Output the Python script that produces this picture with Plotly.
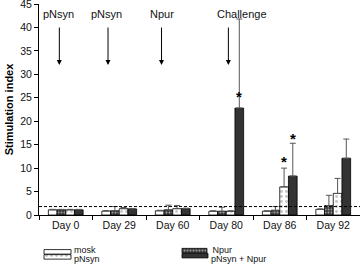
import plotly.graph_objects as go

days = ["Day 0", "Day 29", "Day 60", "Day 80", "Day 86", "Day 92"]
series_names = ["mosk", "Npur", "pNsyn", "pNsyn + Npur"]
mosk = [1.1, 0.85, 0.9, 0.8, 0.8, 1.2]
mosk_err = [0.1, 0.1, 0.1, 0.1, 0.1, 0.1]
npur = [1.1, 0.9, 1.1, 0.8, 1.0, 2.0]
npur_err = [0.1, 0.9, 1.0, 0.85, 0.8, 2.2]
pnsyn = [1.1, 1.35, 1.35, 0.8, 6.0, 4.6]
pnsyn_err = [0.1, 0.25, 0.65, 0.1, 4.0, 3.2]
combo = [1.1, 1.3, 1.35, 22.8, 8.3, 12.1]
combo_err = [0.1, 0.1, 0.1, 19.0, 7.0, 4.1]

threshold = 1.8

star_day = ["Day 80", "Day 86", "Day 86"]
star_series_idx = [3, 2, 3]
star_y = [26.0, 12.1, 16.9]

event_labels = ["pNsyn", "pNsyn", "Npur", "Challenge"]
event_arrow_x = [-0.12, 0.79, 1.79, 3.04]
event_label_x = [-0.13, 0.77, 1.79, 3.29]

FONT = "Liberation Sans, Arial, sans-serif"
W, H = 360, 265
L, R, T, B = 39, 0, 4, 0
plot_h = H - T - B
main_bottom_px = 215
dom0 = (H - main_bottom_px) / plot_h

values = [mosk, npur, pnsyn, combo]
errs = [mosk_err, npur_err, pnsyn_err, combo_err]
styles = [
    dict(color="white", pattern=None),
    dict(color="#3a3a3a", pattern=dict(shape=".", fgcolor="white", bgcolor="#3a3a3a", size=3, solidity=0.35)),
    dict(color="white", pattern=dict(shape=".", fgcolor="#888", bgcolor="white", size=5, solidity=0.25)),
    dict(color="#333333", pattern=None),
]

fig = go.Figure()
for name, v, e, st in zip(series_names, values, errs, styles):
    marker = dict(color=st["color"], line=dict(color="black", width=0.8))
    if st["pattern"]:
        marker["pattern"] = st["pattern"]
    fig.add_trace(go.Bar(
        x=days, y=v, name=name, marker=marker, showlegend=False,
        error_y=dict(type="data", array=e, arrayminus=[0] * len(e), symmetric=False,
                     color="#555", thickness=1, width=3),
        xaxis="x", yaxis="y",
    ))

# legend drawn with bars on a small helper axis
leg_x0 = [44, 182, 44, 182]
leg_len = [27, 25, 27, 26]
leg_y = [15, 7.5]
leg_text_y = [15, 6.3]
leg_rows = [0, 0, 1, 1]
leg_text_names = ["mosk", " Npur", "pNsyn", "pNsyn + Npur"]
for i, (x0, ln, r) in enumerate(zip(leg_x0, leg_len, leg_rows)):
    st = styles[i]
    marker = dict(color=st["color"], line=dict(color="black", width=0.8))
    if st["pattern"]:
        marker["pattern"] = st["pattern"]
    fig.add_trace(go.Bar(
        x=[ln], y=[leg_y[r]], base=[x0], orientation="h", width=4.5,
        marker=marker, showlegend=False, hoverinfo="skip",
        xaxis="x2", yaxis="y2",
    ))
    fig.add_annotation(x=x0 + ln + 0.5, y=leg_text_y[r], xref="x2", yref="y2",
                       text=leg_text_names[i], showarrow=False, xanchor="left",
                       yanchor="middle", font=dict(size=9, color="#111", family=FONT))

fig.add_shape(type="line", xref="x domain", yref="y", x0=0, x1=1, y0=threshold, y1=threshold,
              line=dict(color="black", width=1, dash="3px,2px"))

bar_px = (W - L - R) / len(days) * 0.65 / 4
for d, si, yv in zip(star_day, star_series_idx, star_y):
    fig.add_annotation(x=d, y=yv, xref="x", yref="y", text="<b>*</b>", showarrow=False,
                       xshift=(si - 1.5) * bar_px, yshift=-3, yanchor="middle",
                       font=dict(size=15, color="black", family=FONT))

for lab, ax_, lx in zip(event_labels, event_arrow_x, event_label_x):
    fig.add_annotation(x=ax_, y=32, ax=ax_, ay=40.3, xref="x", yref="y", axref="x", ayref="y",
                       text="", showarrow=True, arrowhead=2, arrowsize=1, arrowwidth=1,
                       arrowcolor="black")
    fig.add_annotation(x=lx, y=42.9, xref="x", yref="y", text=lab, showarrow=False,
                       font=dict(size=11, color="#111", family=FONT))

fig.update_layout(
    width=W, height=H, margin=dict(l=L, r=R, t=T, b=B),
    paper_bgcolor="white", plot_bgcolor="white",
    barmode="group", bargap=0.35, bargroupgap=0,
    font=dict(family=FONT, size=10, color="#111"),
    xaxis=dict(domain=[0, 1], anchor="y", type="category", showline=True, linecolor="black",
               linewidth=1, ticks="outside", tickson="boundaries", ticklen=4, tickcolor="black",
               tickfont=dict(size=10.5, color="#111"), showgrid=False, zeroline=False),
    yaxis=dict(domain=[dom0, 1], anchor="x", range=[0, 45], dtick=5, showline=True,
               linecolor="black", linewidth=1, ticks="outside", ticklen=4, tickcolor="black",
               showgrid=False, zeroline=False, tickfont=dict(size=10.5, color="#111"),
               ticklabeloverflow="allow",
               title=dict(text="<b>Stimulation index</b>", font=dict(size=11, color="black"),
                          standoff=4), automargin=False),
    xaxis2=dict(domain=[0, 1], anchor="y2", range=[L, W - R], visible=False, fixedrange=True),
    yaxis2=dict(domain=[0, 22 / plot_h], anchor="x2", range=[0, 22], visible=False, fixedrange=True),
)

fig.write_html("out.html", config={"displayModeBar": False},
               post_script="document.body.style.margin='0';document.body.style.overflow='hidden';")
